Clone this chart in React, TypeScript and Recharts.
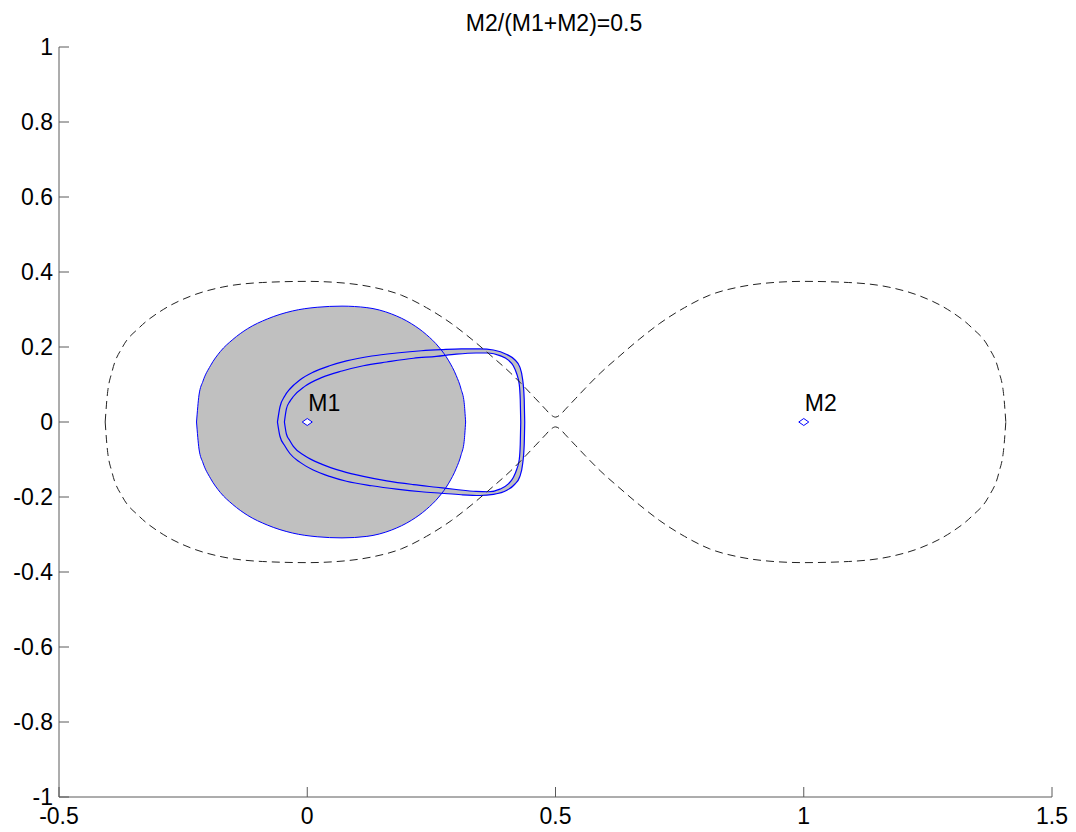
import React from 'react';
import { ComposedChart, XAxis, YAxis, Area, Line, Scatter } from 'recharts';

const FONT = '"Liberation Sans", Arial, Helvetica, sans-serif';
const FONT_SIZE = 23;
const AXIS_COLOR = '#5a5a5a';
const BLUE = '#0000ff';
const GREY = '#c0c0c0';

// Axis ticks
const xTicks = [-0.5, 0, 0.5, 1, 1.5];
const yTicks = [-1, -0.8, -0.6, -0.4, -0.2, 0, 0.2, 0.4, 0.6, 0.8, 1];

// Critical equipotential (dashed figure-eight), upper and lower branches sampled at the same x
const rocheX = [
  -0.407, -0.403, -0.393, -0.372, -0.338, -0.29, -0.236, -0.17, -0.09, 0.0, 0.07, 0.13, 0.19, 0.24, 0.29,
  0.33, 0.37, 0.41, 0.44, 0.46, 0.48, 0.49, 0.5, 0.51, 0.52, 0.54, 0.56, 0.59, 0.63, 0.67, 0.71, 0.76, 0.81,
  0.87, 0.93, 1.0, 1.09, 1.17, 1.236, 1.29, 1.338, 1.372, 1.393, 1.403, 1.407,
];
const rocheUpper = [
  0, 0.068, 0.135, 0.2, 0.252, 0.3, 0.335, 0.36, 0.372, 0.375, 0.371, 0.36, 0.338, 0.305, 0.263,
  0.222, 0.177, 0.13, 0.09, 0.062, 0.034, 0.02, 0.013, 0.02, 0.034, 0.062, 0.09, 0.13, 0.177, 0.222, 0.263, 0.305, 0.338,
  0.36, 0.371, 0.375, 0.372, 0.36, 0.335, 0.3, 0.252, 0.2, 0.135, 0.068, 0,
];
const rocheLower = [
  0, -0.068, -0.135, -0.2, -0.252, -0.3, -0.335, -0.36, -0.372, -0.375, -0.371, -0.36, -0.338, -0.305, -0.263,
  -0.222, -0.177, -0.13, -0.09, -0.062, -0.034, -0.02, -0.013, -0.02, -0.034, -0.062, -0.09, -0.13, -0.177, -0.222, -0.263, -0.305, -0.338,
  -0.36, -0.371, -0.375, -0.372, -0.36, -0.335, -0.3, -0.252, -0.2, -0.135, -0.068, 0,
];

// Star disc around M1
const discX = [
  -0.223, -0.218, -0.21, -0.195, -0.175, -0.15, -0.12, -0.08, -0.03, 0.02, 0.07, 0.12, 0.17, 0.21, 0.24, 0.265,
  0.285, 0.3, 0.31, 0.316, 0.319,
];
const discUpper = [
  0, 0.072, 0.109, 0.15, 0.188, 0.22, 0.249, 0.275, 0.296, 0.306, 0.309, 0.305, 0.288, 0.262, 0.233, 0.2, 0.163,
  0.124, 0.087, 0.052, 0,
];
const discLower = [
  0, -0.072, -0.109, -0.15, -0.188, -0.22, -0.249, -0.275, -0.296, -0.306, -0.309, -0.305, -0.288, -0.262, -0.233,
  -0.2, -0.163, -0.124, -0.087, -0.052, 0,
];

// Outer edge of the shaded band
const bandOuterX = [
  -0.06, -0.055, -0.045, -0.035, -0.015, 0.012, 0.045, 0.079, 0.13, 0.18, 0.23, 0.27, 0.31, 0.348, 0.375, 0.402,
  0.418, 0.428, 0.434, 0.437, 0.438,
];
const bandOuterUpper = [
  0, 0.04, 0.07, 0.088, 0.112, 0.133, 0.15, 0.163, 0.176, 0.184, 0.19, 0.193, 0.195, 0.195, 0.192, 0.18,
  0.166, 0.147, 0.112, 0.06, 0,
];
const bandOuterLower = [
  0, -0.038, -0.064, -0.084, -0.107, -0.128, -0.145, -0.158, -0.17, -0.179, -0.186, -0.19, -0.194, -0.196, -0.193,
  -0.182, -0.166, -0.146, -0.11, -0.06, 0,
];

// Inner edge of the shaded band
const bandInnerX = [
  -0.046, -0.042, -0.035, -0.028, -0.005, 0.03, 0.07, 0.113, 0.16, 0.214, 0.26, 0.3, 0.34, 0.365, 0.388, 0.405,
  0.415, 0.422, 0.427, 0.429, 0.43,
];
const bandInnerUpper = [
  0, 0.035, 0.055, 0.068, 0.095, 0.119, 0.136, 0.15, 0.16, 0.17, 0.175, 0.181, 0.184, 0.184, 0.177, 0.165, 0.15,
  0.128, 0.1, 0.06, 0,
];
const bandInnerLower = [
  0, -0.032, -0.05, -0.065, -0.09, -0.113, -0.131, -0.145, -0.157, -0.167, -0.174, -0.18, -0.185, -0.186, -0.179,
  -0.165, -0.148, -0.126, -0.1, -0.06, 0,
];

// Point masses
const massX = [0, 1];
const massY = [0, 0];
const massNames = ['M1', 'M2'];

const toRange = (xs: number[], lo: number[], hi: number[]) =>
  xs.map((x, i) => ({ x, band: [lo[i], hi[i]] }));
const toPoints = (xs: number[], ys: number[]) => xs.map((x, i) => ({ x, y: ys[i] }));

const discFill = toRange(discX, discLower, discUpper);
const outerFill = toRange(bandOuterX, bandOuterLower, bandOuterUpper);
const innerFill = toRange(bandInnerX, bandInnerLower, bandInnerUpper);
const masses = massX.map((x, i) => ({ x, y: massY[i], name: massNames[i] }));

// Each outline is drawn as its upper and lower branch
const blueOutlines = [
  toPoints(discX, discUpper),
  toPoints(discX, discLower),
  toPoints(bandOuterX, bandOuterUpper),
  toPoints(bandOuterX, bandOuterLower),
  toPoints(bandInnerX, bandInnerUpper),
  toPoints(bandInnerX, bandInnerLower),
];
const rocheBranches = [toPoints(rocheX, rocheUpper), toPoints(rocheX, rocheLower)];

const YTick = (props: any) => {
  const { x, y, payload } = props;
  return (
    <g>
      <line x1={x} x2={x + 10} y1={y} y2={y} stroke={AXIS_COLOR} strokeWidth={1} />
      <text x={x - 6} y={y + 8} textAnchor="end" fontSize={FONT_SIZE} fontFamily={FONT} fill="#000">
        {String(payload.value)}
      </text>
    </g>
  );
};

const XTick = (props: any) => {
  const { x, y, payload } = props;
  return (
    <g>
      <line x1={x} x2={x} y1={y} y2={y - 10} stroke={AXIS_COLOR} strokeWidth={1} />
      <text x={x} y={y + 27} textAnchor="middle" fontSize={FONT_SIZE} fontFamily={FONT} fill="#000">
        {String(payload.value)}
      </text>
    </g>
  );
};

const MassMarker = (props: any) => {
  const { cx, cy, payload } = props;
  if (cx == null || cy == null) return null;
  return (
    <g>
      <polygon
        points={`${cx - 5},${cy} ${cx},${cy - 3.5} ${cx + 5},${cy} ${cx},${cy + 3.5}`}
        fill="#fff"
        stroke={BLUE}
        strokeWidth={1}
      />
      <text x={cx + 1} y={cy - 11} fontSize={FONT_SIZE} fontFamily={FONT} fill="#000">
        {payload.name}
      </text>
    </g>
  );
};

export default function App() {
  return (
    <div style={{ position: 'relative', width: 1060, height: 824, fontFamily: FONT, background: '#fff' }}>
      <ComposedChart width={1060} height={824} margin={{ top: 39, right: 16, bottom: 0, left: 0 }}>
        <XAxis
          type="number"
          dataKey="x"
          domain={[-0.5, 1.5]}
          ticks={xTicks}
          allowDataOverflow
          height={35}
          tickSize={0}
          tickMargin={0}
          tickLine={false}
          axisLine={{ stroke: AXIS_COLOR, strokeWidth: 1 }}
          tick={<XTick />}
          interval={0}
        />
        <YAxis
          type="number"
          domain={[-1, 1]}
          ticks={yTicks}
          allowDataOverflow
          width={51}
          tickSize={0}
          tickMargin={0}
          tickLine={false}
          axisLine={{ stroke: AXIS_COLOR, strokeWidth: 1 }}
          tick={<YTick />}
          interval={0}
        />

        <Area data={outerFill} dataKey="band" type="monotone" stroke="none" fill={GREY} fillOpacity={1} isAnimationActive={false} activeDot={false} />
        <Area data={innerFill} dataKey="band" type="monotone" stroke="none" fill="#ffffff" fillOpacity={1} isAnimationActive={false} activeDot={false} />
        <Area data={discFill} dataKey="band" type="monotone" stroke="none" fill={GREY} fillOpacity={1} isAnimationActive={false} activeDot={false} />

        {blueOutlines.map((pts, i) => (
          <Line
            key={`blue-${i}`}
            data={pts}
            dataKey="y"
            type="monotone"
            stroke={BLUE}
            strokeWidth={i < 2 ? 1 : 1.2}
            dot={false}
            activeDot={false}
            isAnimationActive={false}
          />
        ))}
        {rocheBranches.map((pts, i) => (
          <Line
            key={`roche-${i}`}
            data={pts}
            dataKey="y"
            type="monotone"
            stroke="#222"
            strokeWidth={1}
            strokeDasharray="8 5"
            dot={false}
            activeDot={false}
            isAnimationActive={false}
          />
        ))}

        <Scatter data={masses} dataKey="y" shape={<MassMarker />} isAnimationActive={false} />
      </ComposedChart>
      <svg width={1060} height={40} style={{ position: 'absolute', left: 0, top: 0, pointerEvents: 'none' }}>
        <text x={546} y={23} textAnchor="middle" fontSize={FONT_SIZE} fontFamily={FONT} fill="#000">
          M2/(M1+M2)=0.5
        </text>
      </svg>
    </div>
  );
}
